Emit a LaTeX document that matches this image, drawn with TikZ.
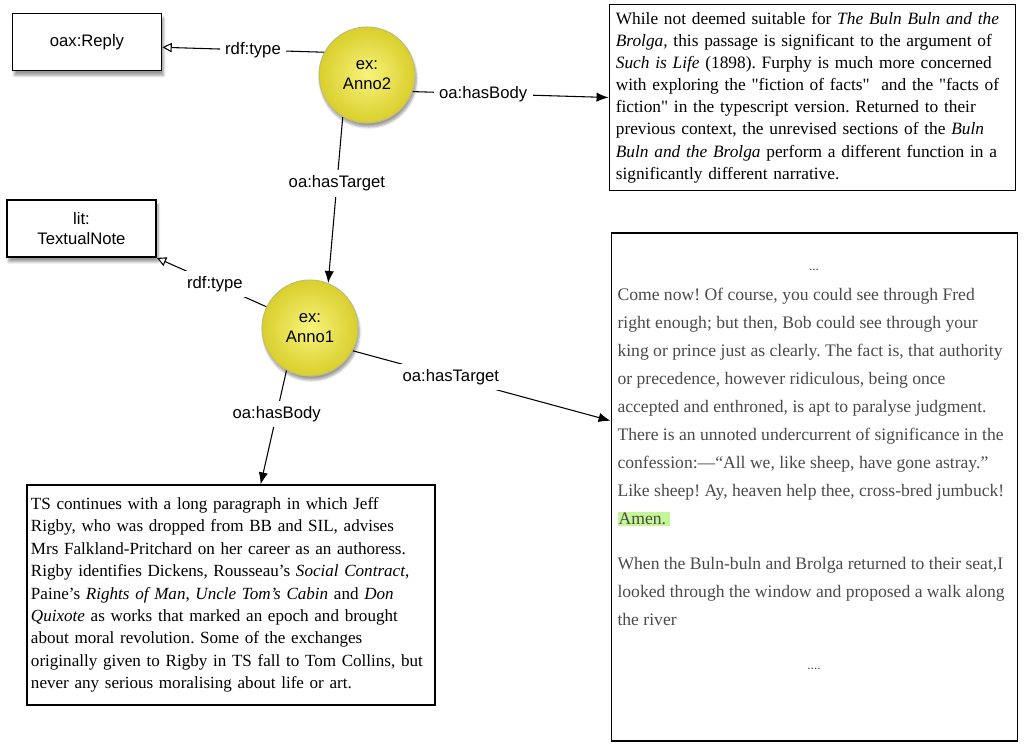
\documentclass[tikz,border=0pt]{standalone}
\usepackage{fontspec}
\setmainfont{Liberation Serif}
\setsansfont{Liberation Sans}
\usetikzlibrary{arrows.meta,positioning,shadows,shadows.blur}

\definecolor{annoinner}{HTML}{F8F37C}
\definecolor{annoouter}{HTML}{D9CF2C}
\definecolor{passagegray}{HTML}{4A4A4A}
\definecolor{amengreen}{HTML}{C4F597}

\begin{document}
\frenchspacing
\begin{tikzpicture}[x=0.75pt, y=-0.75pt, thick]
    \tikzstyle{resource} = [circle, draw=annoouter!70!black!60, inner color=annoinner, outer color=annoouter, minimum size=72pt, inner sep=0pt, align=center, font=\sffamily\fontsize{12.5}{15}\selectfont, blur shadow={shadow xshift=1pt, shadow yshift=-3pt, shadow blur steps=6}]
    \tikzstyle{class} = [rectangle, draw, line width=1.1pt, fill=white, minimum width=112pt, minimum height=43pt, align=center, font=\sffamily\fontsize{12.5}{15}\selectfont, blur shadow={shadow xshift=1.5pt, shadow yshift=-3.5pt, shadow blur steps=6}]
    \tikzstyle{textbox} = [rectangle, draw, line width=0.9pt, align=left, inner xsep=5pt, font=\fontsize{13}{16.6}\selectfont]
    \tikzstyle{prop} = [fill=white, inner sep=4pt, font=\sffamily\fontsize{12.5}{15}\selectfont]
    \tikzstyle{arrow} = [-{Latex[length=9pt, width=7pt]}]
    \tikzstyle{typearrow} = [-{Triangle[open, length=7pt, width=7pt]}]

    \useasboundingbox (0,0) rectangle (1024,744);

    % annotations
    \node [resource] (anno2) at (367,75) {ex:\\Anno2};
    \node [resource] (anno1) at (310,328) {ex:\\Anno1};

    % classes
    \node [class] (reply) at (87,42) {oax:Reply};
    \node [class] (textualnote) at (81.5,228.5) {lit:\\TextualNote};

    % bodies
    \node [textbox, minimum width=305pt, minimum height=140pt, text width=295pt] (note2) at (812.5,97.5) {While not deemed suitable for \textit{The Buln Buln and the}\\
\textit{Brolga,} this passage is significant to the argument of\\
\textit{Such is Life} (1898). Furphy is much more concerned\\
with exploring the \textquotedbl fiction of facts\textquotedbl\ \ and the \textquotedbl facts of\\
fiction\textquotedbl{} in the typescript version. Returned to their\\
previous context, the unrevised sections of the \textit{Buln}\\
\textit{Buln and the Brolga} perform a different function in a\\
significantly different narrative.};
    \node [textbox, minimum width=306pt, minimum height=165pt, text width=300pt, inner xsep=3pt, font=\fontsize{12.8}{16.8}\selectfont] (note1) at (231,595) {TS continues with a long paragraph in which Jeff\\
Rigby, who was dropped from BB and SIL, advises\\
Mrs Falkland-Pritchard on her career as an authoress.\\
Rigby identifies Dickens, Rousseau's \textit{Social Contract},\\
Paine's \textit{Rights of Man}, \textit{Uncle Tom's Cabin} and \textit{Don}\\
\textit{Quixote} as works that marked an epoch and brought\\
about moral revolution. Some of the exchanges\\
originally given to Rigby in TS fall to Tom Collins, but\\
never any serious moralising about life or art.};

    % target passage
    \node [textbox, minimum width=305pt, minimum height=381pt] (passage) at (814.5,487) {};
    \node [align=left, inner sep=0pt, anchor=north west, text=passagegray, font=\fontsize{13.2}{21}\selectfont] (passagetext) at (617,288) {Come now! Of course, you could see through Fred\\
right enough; but then, Bob could see through your\\
king or prince just as clearly. The fact is, that authority\\
or precedence, however ridiculous, being once\\
accepted and enthroned, is apt to paralyse judgment.\\
There is an unnoted undercurrent of significance in the\\
confession:---``All we, like sheep, have gone astray.''\\
Like sheep! Ay, heaven help thee, cross-bred jumbuck!\\
{\setlength{\fboxsep}{0.8pt}\colorbox{amengreen}{Amen.\,}}\\[12.75pt]
When the Buln-buln and Brolga returned to their seat,I\\
looked through the window and proposed a walk along\\
the river};
    \node [text=passagegray, font=\fontsize{10}{12}\selectfont] (dotstop) at (814,270) {...};
    \node [text=passagegray, font=\fontsize{10}{12}\selectfont] (dotsbottom) at (814,669) {....};

    % properties
    \draw [typearrow] (anno2.152) -- node [prop, pos=0.44] {rdf:type} (reply.-4);
    \draw [arrow] (anno2.-20) -- node [prop, pos=0.36] {oa:hasBody} (note2.west);
    \draw [arrow] (anno2.-120) -- node [prop, pos=0.40] {oa:hasTarget} (anno1.68);
    \draw [typearrow] (anno1.154) -- node [prop, pos=0.47] {rdf:type} (textualnote.south east);
    \draw [arrow] (anno1.-28) -- node [prop, pos=0.38] {oa:hasTarget} (passage.162);
    \draw [arrow] (anno1.-119) -- node [prop, pos=0.38] {oa:hasBody} (note1.75);
\end{tikzpicture}
\end{document}
